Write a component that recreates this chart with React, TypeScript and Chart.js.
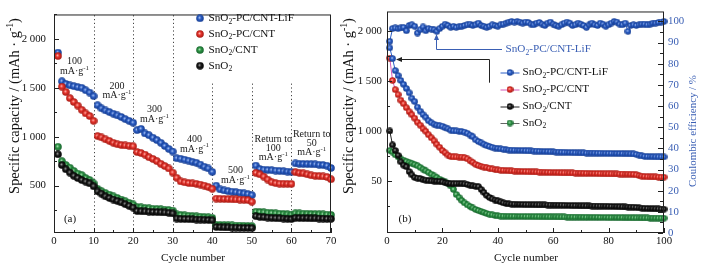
import React, { useEffect, useRef } from 'react';
import { Chart, registerables } from 'chart.js';
Chart.register(...registerables);

const FONT = "'Liberation Serif', 'Times New Roman', Times, serif";

// ---------------- Panel (a): rate performance ----------------
const rateNames = ['SnO_2-PC/CNT-LiF', 'SnO_2-PC/CNT', 'SnO_2/CNT', 'SnO_2'];
const rateLiF = [1860, 1567, 1540, 1525, 1517, 1507, 1500, 1475, 1452, 1415,
  1322, 1290, 1268, 1252, 1235, 1218, 1202, 1180, 1162, 1143,
  1067, 1080, 1033, 1015, 990, 965, 938, 905, 875, 848,
  780, 775, 765, 755, 743, 733, 715, 693, 675, 640,
  500, 460, 450, 443, 438, 432, 427, 420, 413, 403,
  705, 670, 663, 660, 657, 653, 650, 647, 643, 640,
  727, 723, 722, 720, 719, 717, 713, 710, 703, 680];
const ratePC = [1825, 1512, 1457, 1395, 1355, 1318, 1275, 1238, 1212, 1162,
  1007, 993, 973, 957, 938, 923, 915, 910, 907, 902,
  843, 833, 817, 790, 773, 750, 723, 700, 675, 633,
  580, 543, 533, 527, 522, 518, 510, 500, 485, 467,
  367, 365, 363, 362, 360, 358, 357, 355, 352, 335,
  630, 615, 592, 562, 535, 525, 520, 519, 518, 517,
  637, 630, 625, 615, 605, 600, 597, 593, 588, 565];
const rateCNT = [897, 750, 710, 683, 650, 623, 607, 577, 557, 523,
  467, 443, 423, 407, 390, 373, 357, 340, 323, 307,
  280, 277, 270, 267, 263, 260, 257, 253, 250, 245,
  205, 200, 195, 192, 188, 185, 182, 178, 175, 170,
  100, 97, 95, 93, 92, 90, 90, 88, 87, 85,
  233, 230, 227, 223, 220, 217, 213, 210, 207, 203,
  217, 215, 213, 212, 210, 208, 207, 205, 203, 200];
const rateSnO2 = [820, 710, 667, 633, 600, 577, 557, 540, 523, 493,
  440, 417, 390, 373, 357, 343, 327, 310, 293, 275,
  240, 237, 235, 233, 230, 229, 227, 225, 222, 215,
  163, 160, 158, 157, 155, 153, 152, 150, 148, 145,
  77, 75, 73, 72, 70, 70, 68, 67, 67, 65,
  187, 180, 177, 173, 170, 167, 165, 163, 160, 157,
  170, 168, 167, 167, 165, 165, 163, 162, 160, 160];
const rateXTicks = [0, 10, 20, 30, 40, 50, 60, 70];
const rateSeparators = [10, 20, 30, 40, 50, 60];
const rateCurrentLabels = [
  ['100', 'mA·g^{-1}'], ['200', 'mA·g^{-1}'], ['300', 'mA·g^{-1}'], ['400', 'mA·g^{-1}'],
  ['500', 'mA·g^{-1}'], ['Return to', '100', 'mA·g^{-1}'], ['Return to', '50', 'mA·g^{-1}'],
];

// ---------------- Panel (b): cycling ----------------
const cycNames = ['SnO_2-PC/CNT-LiF', 'SnO_2-PC/CNT', 'SnO_2/CNT', 'SnO_2'];
const cycLiF = [1832, 1725, 1605, 1556, 1507, 1468, 1426, 1384, 1329, 1296,
  1241, 1200, 1166, 1140, 1105, 1085, 1070, 1060, 1055, 1050,
  1035, 1025, 1010, 1005, 1003, 1000, 998, 992, 980, 962,
  945, 915, 898, 885, 870, 857, 848, 840, 833, 828,
  824, 820, 816, 813, 811, 810, 809, 808, 808, 806,
  805, 804, 803, 802, 800, 799, 798, 797, 796, 795,
  793, 792, 791, 790, 789, 788, 787, 786, 785, 784,
  784, 783, 783, 782, 782, 781, 781, 780, 780, 779,
  779, 778, 778, 777, 777, 776, 776, 775, 774, 770,
  762, 755, 750, 748, 747, 746, 745, 745, 744, 744];
const cycPC = [1730, 1507, 1415, 1365, 1310, 1275, 1235, 1195, 1165, 1130,
  1090, 1060, 1025, 1000, 965, 935, 905, 870, 840, 808,
  785, 762, 748, 745, 744, 743, 742, 736, 725, 705,
  690, 670, 658, 650, 643, 637, 630, 624, 618, 614,
  612, 610, 608, 606, 604, 603, 602, 600, 599, 598,
  597, 596, 595, 594, 593, 592, 591, 590, 589, 588,
  588, 587, 586, 585, 585, 584, 584, 583, 582, 582,
  581, 580, 580, 579, 578, 578, 577, 576, 576, 575,
  575, 574, 574, 573, 573, 572, 572, 571, 570, 566,
  558, 552, 549, 547, 546, 545, 544, 543, 542, 542];
const cycCNT = [1003, 864, 808, 760, 695, 662, 646, 598, 565, 539,
  532, 528, 516, 512, 508, 505, 503, 501, 500, 495,
  486, 482, 478, 476, 477, 478, 477, 474, 470, 462,
  455, 451, 448, 420, 390, 360, 340, 325, 313, 305,
  295, 285, 279, 275, 273, 272, 271, 270, 269, 268,
  268, 267, 267, 266, 266, 265, 265, 264, 264, 263,
  263, 262, 262, 261, 260, 259, 258, 258, 257, 256,
  256, 255, 255, 254, 254, 253, 253, 252, 252, 251,
  250, 249, 248, 247, 246, 245, 244, 243, 242, 240,
  236, 233, 231, 229, 228, 227, 226, 225, 224, 223];
const cycSnO2 = [808, 793, 765, 745, 725, 712, 700, 690, 680, 668,
  656, 640, 622, 605, 590, 572, 555, 540, 522, 505,
  495, 480, 455, 420, 370, 340, 310, 285, 265, 250,
  235, 220, 210, 200, 190, 180, 172, 166, 160, 156,
  154, 153, 152, 152, 151, 151, 150, 150, 150, 149,
  149, 149, 148, 148, 148, 147, 147, 147, 146, 146,
  146, 145, 145, 145, 144, 144, 144, 143, 143, 143,
  142, 142, 142, 141, 141, 141, 140, 140, 140, 139,
  139, 139, 138, 138, 138, 137, 137, 137, 136, 136,
  136, 135, 135, 135, 134, 134, 134, 133, 133, 133];
const cycCE = [90.6, 96.6, 96.9, 96.6, 96.9, 97.2, 95.6, 98.1, 98.4, 97.7,
  94.5, 96.1, 97.4, 95.6, 96.6, 96.4, 96.1, 95.3, 96.6, 97.7,
  98.7, 98.1, 97.2, 97.7, 97.2, 97.5, 97.7, 98.1, 98.4, 98.7,
  98.1, 98.4, 99.2, 98.1, 97.7, 97.2, 97.7, 98.4, 98.1, 97.7,
  98.4, 98.7, 99.2, 99.7, 100.0, 99.7, 100.0, 99.7, 99.2, 99.7,
  99.5, 98.7, 98.4, 99.2, 99.5, 98.7, 98.1, 99.2, 99.7, 98.7,
  98.1, 97.7, 98.4, 99.2, 99.7, 99.2, 98.1, 98.4, 99.2, 98.7,
  98.1, 97.2, 98.4, 99.2, 98.4, 98.1, 99.2, 98.7, 97.7, 98.4,
  99.2, 100.0, 99.7, 98.7, 98.4, 99.2, 95.3, 98.1, 98.4, 98.1,
  98.4, 98.7, 98.7, 98.4, 98.7, 99.2, 99.2, 99.5, 99.7, 100.0];
const cycXTicks = [0, 20, 40, 60, 80, 100];
const capTickValues = [500, 1000, 1500, 2000];
const capTickLabelsA = ['500', '1 000', '1 500', '2 000'];
const capTickLabelsB = ['50', '1 000', '1 500', '2 000'];
const ceTickValues = [0, 10, 20, 30, 40, 50, 60, 70, 80, 90, 100];

// ---------------- colours ----------------
const BLUE = { base: '#2b5ec6', light: '#c4d6f8', dark: '#143a8c' };
const RED = { base: '#e8352e', light: '#ffc8c0', dark: '#a0160f' };
const GREEN = { base: '#2f9646', light: '#bce8c4', dark: '#14602a' };
const BLACK = { base: '#1c1c1c', light: '#b0b0b0', dark: '#000000' };
const AXIS_BLUE = '#3a5fb4';
const LINE_COLORS = ['#2b5ec6', '#d45ab8', '#222222', '#666666'];

function makeBall(c: { base: string; light: string; dark: string }, d: number) {
  const cv = document.createElement('canvas');
  cv.width = d; cv.height = d;
  const g = cv.getContext('2d')!;
  const r = d / 2;
  const gr = g.createRadialGradient(r - 0.08 * d, r - 0.1 * d, 0, r, r, r);
  gr.addColorStop(0, c.light);
  gr.addColorStop(0.4, c.base);
  gr.addColorStop(1, c.dark);
  g.fillStyle = gr;
  g.beginPath(); g.arc(r, r, r - 0.2, 0, Math.PI * 2); g.fill();
  return cv;
}

// ---------------- rich text helpers ----------------
type Seg = { t: string; k: number };
function parseRich(s: string): Seg[] {
  const out: Seg[] = []; let buf = '';
  for (let i = 0; i < s.length; i++) {
    const ch = s[i];
    if (ch === '_' || ch === '^') {
      if (buf) { out.push({ t: buf, k: 0 }); buf = ''; }
      let t = '';
      if (s[i + 1] === '{') { const j = s.indexOf('}', i + 2); t = s.slice(i + 2, j); i = j; }
      else { t = s[i + 1]; i++; }
      out.push({ t, k: ch === '_' ? 1 : 2 });
    } else buf += ch;
  }
  if (buf) out.push({ t: buf, k: 0 });
  return out;
}
function segFont(size: number, k: number) { return `${k ? size * 0.68 : size}px ${FONT}`; }
function richWidth(ctx: CanvasRenderingContext2D, segs: Seg[], size: number) {
  let w = 0;
  segs.forEach((s) => { ctx.font = segFont(size, s.k); w += ctx.measureText(s.t).width; });
  return w;
}
function drawRich(ctx: CanvasRenderingContext2D, s: string, x: number, y: number, size: number,
  align: string, color: string, fitWidth = 0) {
  const segs = parseRich(s);
  if (fitWidth) size = size * fitWidth / richWidth(ctx, segs, size);
  const w = richWidth(ctx, segs, size);
  let cx = align === 'left' ? x : align === 'center' ? x - w / 2 : x - w;
  ctx.textBaseline = 'middle'; ctx.textAlign = 'left'; ctx.fillStyle = color;
  segs.forEach((sg) => {
    ctx.font = segFont(size, sg.k);
    const dy = sg.k === 1 ? size * 0.3 : sg.k === 2 ? -size * 0.32 : 0;
    ctx.fillText(sg.t, cx, y + dy);
    cx += ctx.measureText(sg.t).width;
  });
}
function arrowHead(ctx: CanvasRenderingContext2D, x: number, y: number, dir: string, color: string) {
  ctx.fillStyle = color; ctx.beginPath();
  if (dir === 'up') { ctx.moveTo(x, y); ctx.lineTo(x - 2.5, y + 6); ctx.lineTo(x + 2.5, y + 6); }
  else { ctx.moveTo(x, y); ctx.lineTo(x + 6, y - 2.5); ctx.lineTo(x + 6, y + 2.5); }
  ctx.closePath(); ctx.fill();
}
function tickX(ctx: CanvasRenderingContext2D, scale: any, vals: number[], bottom: number, len: number) {
  vals.forEach((v) => { const p = Math.round(scale.getPixelForValue(v)) + 0.5; ctx.beginPath(); ctx.moveTo(p, bottom); ctx.lineTo(p, bottom - len); ctx.stroke(); });
}
function tickY(ctx: CanvasRenderingContext2D, scale: any, vals: number[], xEdge: number, len: number) {
  vals.forEach((v) => { const p = Math.round(scale.getPixelForValue(v)) + 0.5; ctx.beginPath(); ctx.moveTo(xEdge, p); ctx.lineTo(xEdge + len, p); ctx.stroke(); });
}
function range(a: number, b: number, s: number) { const r: number[] = []; for (let v = a; v <= b + 1e-9; v += s) r.push(v); return r; }

const Y_TITLE = 'Specific capacity / (mAh · g^{-1})';

function makeDecorA(balls: HTMLCanvasElement[]) {
  return {
    id: 'decorA',
    beforeDatasetsDraw(chart: any) {
      const { ctx, chartArea: { top, bottom }, scales: { x, y } } = chart;
      ctx.save();
      ctx.strokeStyle = '#444'; ctx.lineWidth = 1; ctx.setLineDash([1.2, 2.6]);
      rateSeparators.forEach((c) => {
        const p = Math.round(x.getPixelForValue(c)) + 0.5;
        const yTop = c <= 30 ? top : y.getPixelForValue(1550);
        ctx.beginPath(); ctx.moveTo(p, bottom); ctx.lineTo(p, yTop); ctx.stroke();
      });
      ctx.restore();
    },
    afterDraw(chart: any) {
      const { ctx, chartArea: { left, right, top, bottom }, scales: { x, y } } = chart;
      ctx.save();
      ctx.strokeStyle = '#222'; ctx.lineWidth = 1;
      ctx.strokeRect(left + 0.5, top + 0.5, right - left - 1, bottom - top - 1);
      tickX(ctx, x, range(0, 70, 10), bottom, 5);
      tickX(ctx, x, range(5, 65, 10), bottom, 3);
      tickY(ctx, y, capTickValues, left, 5);
      tickY(ctx, y, range(250, 2250, 500), left, 3);
      const pos = [[74.5, 61.7], [117, 86], [154.5, 109.8], [194.5, 139.3], [235.5, 170.5], [273.3, 139.3], [311.7, 134.3]];
      rateCurrentLabels.forEach((lines, i) => {
        const step = lines.length === 3 ? 8.9 : 9.6;
        lines.forEach((t, j) => drawRich(ctx, t, pos[i][0], pos[i][1] + j * step, 10, 'center', '#1a1a1a'));
      });
      const rows = [18.3, 34, 50, 65.7];
      rateNames.forEach((n, i) => {
        const b = balls[i];
        ctx.drawImage(b, 200 - b.width / 2, rows[i] - b.height / 2);
        drawRich(ctx, n, 208.5, rows[i], 11.2, 'left', '#111');
      });
      drawRich(ctx, '(a)', 70, 219, 11, 'center', '#111');
      drawRich(ctx, 'Cycle number', 193, 258, 11.4, 'center', '#111');
      ctx.save(); ctx.translate(15, 106); ctx.rotate(-Math.PI / 2);
      drawRich(ctx, Y_TITLE, 0, 0, 12.5, 'center', '#111', 176);
      ctx.restore();
      ctx.restore();
    },
  };
}

function makeDecorB(balls: HTMLCanvasElement[]) {
  return {
    id: 'decorB',
    afterDraw(chart: any) {
      const { ctx, chartArea: { left, right, top, bottom }, scales: { x, y, y2 } } = chart;
      ctx.save();
      ctx.strokeStyle = '#222'; ctx.lineWidth = 1;
      ctx.strokeRect(left + 0.5, top + 0.5, right - left - 1, bottom - top - 1);
      tickX(ctx, x, range(0, 100, 20), bottom, 5);
      tickX(ctx, x, range(10, 90, 20), bottom, 3);
      tickY(ctx, y, capTickValues, left, 5);
      tickY(ctx, y, range(250, 1750, 500), left, 3);
      tickY(ctx, y2, ceTickValues, right - 1, -5);
      tickY(ctx, y2, range(5, 95, 10), right - 1, -3);
      ctx.strokeStyle = AXIS_BLUE; ctx.lineWidth = 1;
      ctx.beginPath(); ctx.moveTo(502, 49.5); ctx.lineTo(436.5, 49.5); ctx.lineTo(436.5, 39); ctx.stroke();
      arrowHead(ctx, 436.5, 34, 'up', AXIS_BLUE);
      drawRich(ctx, cycNames[0], 505.5, 49.5, 11.2, 'left', AXIS_BLUE);
      ctx.strokeStyle = '#222';
      ctx.beginPath(); ctx.moveTo(489.5, 82.7); ctx.lineTo(489.5, 59.5); ctx.lineTo(401, 59.5); ctx.stroke();
      arrowHead(ctx, 396, 59.5, 'left', '#222');
      const rows = [72.5, 89.5, 106.5, 123];
      cycNames.forEach((n, i) => {
        ctx.strokeStyle = LINE_COLORS[i]; ctx.lineWidth = 1;
        ctx.beginPath(); ctx.moveTo(500.5, rows[i] + 0.5); ctx.lineTo(519.5, rows[i] + 0.5); ctx.stroke();
        const b = balls[i];
        ctx.drawImage(b, 510 - b.width / 2, rows[i] - b.height / 2);
        drawRich(ctx, n, 522.5, rows[i], 11.2, 'left', '#111');
      });
      drawRich(ctx, '(b)', 405, 219, 11, 'center', '#111');
      drawRich(ctx, 'Cycle number', 526, 258, 11.4, 'center', '#111');
      ctx.save(); ctx.translate(349, 106); ctx.rotate(-Math.PI / 2);
      drawRich(ctx, Y_TITLE, 0, 0, 12.5, 'center', '#111', 176);
      ctx.restore();
      ctx.save(); ctx.translate(693, 131); ctx.rotate(-Math.PI / 2);
      drawRich(ctx, 'Coulombic efficiency / %', 0, 0, 11, 'center', AXIS_BLUE, 112);
      ctx.restore();
      ctx.restore();
    },
  };
}

const tickFont = { family: FONT, size: 10.8 };

export default function App() {
  const refA = useRef<HTMLCanvasElement>(null);
  const refB = useRef<HTMLCanvasElement>(null);
  useEffect(() => {
    const bA = [makeBall(BLUE, 8), makeBall(RED, 8), makeBall(GREEN, 8), makeBall(BLACK, 8)];
    const bB = [makeBall(BLUE, 7), makeBall(RED, 7), makeBall(BLACK, 7), makeBall(GREEN, 7)];
    const toXY = (arr: number[]) => arr.map((v, i) => ({ x: i + 1, y: v }));
    const seriesA = [rateLiF, ratePC, rateCNT, rateSnO2];
    const chartA = new Chart(refA.current!, {
      type: 'line',
      data: {
        datasets: seriesA.map((s, i) => ({
          label: rateNames[i], data: toXY(s), showLine: false,
          pointStyle: bA[i] as any, pointRadius: 4, order: 4 - i, clip: false as any,
        })),
      },
      options: {
        responsive: false, animation: false, events: [],
        layout: { padding: { left: 0, right: 381, top: 10, bottom: 0 } },
        plugins: { legend: { display: false }, tooltip: { enabled: false } },
        scales: {
          x: {
            type: 'linear', min: 0, max: 70,
            grid: { display: false, drawTicks: false }, border: { display: false },
            afterBuildTicks: (s: any) => { s.ticks = rateXTicks.map((v) => ({ value: v })); },
            afterFit: (s: any) => { s.height = 39; },
            ticks: { font: tickFont, color: '#111', padding: 2, maxRotation: 0, autoSkip: false },
          },
          y: {
            type: 'linear', min: 15, max: 2250,
            grid: { display: false, drawTicks: false }, border: { display: false },
            afterBuildTicks: (s: any) => { s.ticks = capTickValues.map((v) => ({ value: v })); },
            afterFit: (s: any) => { s.width = 54; },
            ticks: {
              font: tickFont, color: '#111', padding: 8, autoSkip: false,
              callback: (v: any) => capTickLabelsA[capTickValues.indexOf(Number(v))] ?? '',
            },
          },
        },
      } as any,
      plugins: [makeDecorA(bA)],
    });

    const seriesB = [cycLiF, cycPC, cycCNT, cycSnO2];
    const dsB: any[] = seriesB.map((s, i) => ({
      label: cycNames[i], data: toXY(s), showLine: true, borderColor: LINE_COLORS[i], borderWidth: 1,
      pointStyle: bB[i], pointRadius: 3.5, yAxisID: 'y', order: 2 + i, clip: false,
    }));
    dsB.push({
      label: 'CE', data: toXY(cycCE), showLine: true, borderColor: BLUE.base, borderWidth: 1,
      pointStyle: bB[0], pointRadius: 3.5, yAxisID: 'y2', order: 1, clip: false,
    });
    const chartB = new Chart(refB.current!, {
      type: 'line',
      data: { datasets: dsB },
      options: {
        responsive: false, animation: false, events: [],
        layout: { padding: { left: 0, right: 0, top: 10, bottom: 0 } },
        plugins: { legend: { display: false }, tooltip: { enabled: false } },
        scales: {
          x: {
            type: 'linear', min: 0, max: 100,
            grid: { display: false, drawTicks: false }, border: { display: false },
            afterBuildTicks: (s: any) => { s.ticks = cycXTicks.map((v) => ({ value: v })); },
            afterFit: (s: any) => { s.height = 39; },
            ticks: { font: tickFont, color: '#111', padding: 2, maxRotation: 0, autoSkip: false },
          },
          y: {
            type: 'linear', position: 'left', min: -15, max: 2195,
            grid: { display: false, drawTicks: false }, border: { display: false },
            afterBuildTicks: (s: any) => { s.ticks = capTickValues.map((v) => ({ value: v })); },
            afterFit: (s: any) => { s.width = 387; },
            ticks: {
              font: tickFont, color: '#111', padding: 5, autoSkip: false,
              callback: (v: any) => capTickLabelsB[capTickValues.indexOf(Number(v))] ?? '',
            },
          },
          y2: {
            type: 'linear', position: 'right', min: 0, max: 104.7,
            grid: { display: false, drawTicks: false }, border: { display: false },
            afterBuildTicks: (s: any) => { s.ticks = ceTickValues.map((v) => ({ value: v })); },
            afterFit: (s: any) => { s.width = 48; },
            ticks: { font: tickFont, color: AXIS_BLUE, padding: 4, autoSkip: false },
          },
        },
      } as any,
      plugins: [makeDecorB(bB)],
    });
    return () => { chartA.destroy(); chartB.destroy(); };
  }, []);
  return (
    <div style={{ position: 'absolute', left: 0, top: 0, width: 712, height: 272, background: '#fff', overflow: 'hidden' }}>
      <canvas ref={refA} width={712} height={272} style={{ position: 'absolute', left: 0, top: 0 }} />
      <canvas ref={refB} width={712} height={272} style={{ position: 'absolute', left: 0, top: 0 }} />
    </div>
  );
}
